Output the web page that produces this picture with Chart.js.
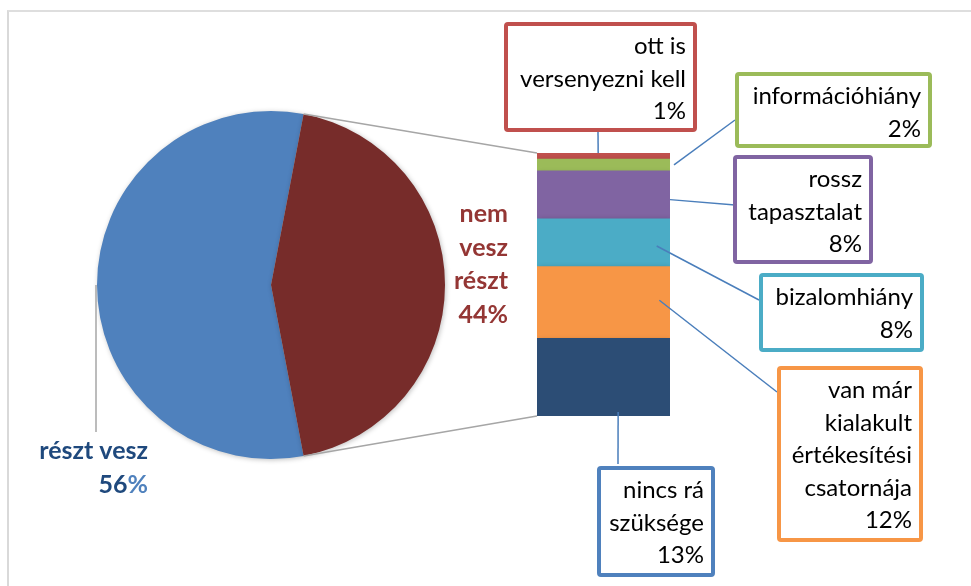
<!DOCTYPE html>
<html>
<head>
<meta charset="utf-8">
<script src="https://cdn.jsdelivr.net/npm/chart.js@4.4.0/dist/chart.umd.min.js"></script>
<style>
  body { margin: 0; background: #fff; }
  #wrap { position: relative; width: 971px; height: 586px; overflow: hidden; }
  #frame { position: absolute; left: 7px; top: 10px; right: -10px; bottom: -10px;
           border-left: 2px solid #d9d9d9; border-top: 2px solid #dedede; }
  canvas { position: absolute; left: 0; top: 0; }
</style>
</head>
<body>
<div id="wrap">
  <div id="frame"></div>
  <canvas id="pieCanvas" width="971" height="586"></canvas>
  <canvas id="barCanvas" width="971" height="586"></canvas>
</div>
<script>
// adatok
const pieLabels = ['részt vesz', 'nem vesz részt'];
const pieValues = [56, 44];
const pieColors = ['#4f81bd', '#772c2a'];

// a "nem vesz részt" felbontása, alulról felfelé
const reasonLabels = ['nincs rá szüksége', 'van már kialakult értékesítési csatornája', 'bizalomhiány',
                      'rossz tapasztalat', 'információhiány', 'ott is versenyezni kell'];
const reasonValues = [13, 12, 8, 8, 2, 1];
const reasonColors = ['#2c4d75', '#f79646', '#4bacc6', '#8064a2', '#9bbb59', '#c0504d'];
const boxBorders = ['#4f81bd', '#f79646', '#4bacc6', '#8064a2', '#9bbb59', '#c0504d'];

const FONT = 'Lato, "Noto Sans", sans-serif';

// címke dobozok helye (külső keret), sortörés szavanként, vezetővonal kezdete a sávon belül (arány) és vége
const boxes = [
  { x: 597, y: 466, w: 118, h: 111, words: [2, 1], from: [0.61, 0.95], to: [618, 464] },
  { x: 777, y: 366, w: 146, h: 176, words: [2, 1, 1, 1], from: [0.92, 0.47], to: [777, 392] },
  { x: 759, y: 273, w: 165, h: 79, words: [1], from: [0.9, 0.57], to: [759, 300] },
  { x: 733, y: 155, w: 140, h: 109, words: [1, 1], from: [1.0, 0.6], to: [735, 205] },
  { x: 735, y: 72, w: 197, h: 76, words: [1], from: [1.03, 0.5], to: [735, 120] },
  { x: 504, y: 22, w: 193, h: 110, words: [2, 2], from: [0.46, 0.0], to: [598, 132] }
];

function splitLines(label, counts) {
  const words = label.split(' ');
  const out = [];
  let i = 0;
  counts.forEach(n => { out.push(words.slice(i, i + n).join(' ')); i += n; });
  if (i < words.length) out.push(words.slice(i).join(' '));
  return out;
}

// pite címkék
const pieLabelPlugin = {
  id: 'pieLabels',
  beforeDatasetsDraw(chart) {
    chart.ctx.save();
    chart.ctx.shadowColor = 'rgba(0,0,0,0.25)';
    chart.ctx.shadowBlur = 5;
    chart.ctx.shadowOffsetX = 1;
    chart.ctx.shadowOffsetY = 1;
  },
  afterDatasetsDraw(chart) {
    chart.ctx.restore();
  },
  afterDraw(chart) {
    const ctx = chart.ctx;
    const arc = chart.getDatasetMeta(0).data[0];
    ctx.save();
    // részt vesz vezetővonal
    ctx.strokeStyle = '#a6a6a6';
    ctx.lineWidth = 1.5;
    ctx.beginPath();
    ctx.moveTo(arc.x - arc.outerRadius - 1, arc.y);
    ctx.lineTo(arc.x - arc.outerRadius - 1, arc.y + 147);
    ctx.stroke();

    ctx.font = 'bold 25px ' + FONT;
    ctx.textAlign = 'right';
    ctx.textBaseline = 'alphabetic';
    const rx = 148;
    ctx.fillStyle = '#1f497d';
    ctx.fillText(pieLabels[0], rx, 459);
    const pct = '%';
    const pw = ctx.measureText(pct).width;
    ctx.fillStyle = '#4f81bd';
    ctx.fillText(pct, rx, 493);
    ctx.fillStyle = '#1f497d';
    ctx.fillText(String(pieValues[0]), rx - pw, 493);

    // nem vesz részt
    ctx.fillStyle = '#943634';
    const lines = pieLabels[1].split(' ').concat([pieValues[1] + '%']);
    lines.forEach((t, i) => ctx.fillText(t, 508, 222 + i * 33.7));
    ctx.restore();
  }
};

const pieChart = new Chart(document.getElementById('pieCanvas'), {
  type: 'pie',
  data: {
    labels: pieLabels,
    datasets: [{ data: pieValues, backgroundColor: pieColors, borderWidth: 0 }]
  },
  options: {
    responsive: false,
    animation: false,
    devicePixelRatio: 1,
    rotation: 169.2,
    layout: { padding: { left: 97, right: 526, top: 111, bottom: 127 } },
    plugins: { legend: { display: false }, tooltip: { enabled: false } }
  },
  plugins: [pieLabelPlugin]
});

// sáv: összekötők, dobozok
const calloutPlugin = {
  id: 'callouts',
  beforeDatasetsDraw(chart) {
    chart.ctx.save();
    chart.ctx.shadowColor = 'rgba(0,0,0,0.2)';
    chart.ctx.shadowBlur = 5;
    chart.ctx.shadowOffsetX = 1;
    chart.ctx.shadowOffsetY = 1;
  },
  afterDatasetsDraw(chart) {
    chart.ctx.restore();
  },
  afterDraw(chart) {
    const ctx = chart.ctx;
    const slice = pieChart.getDatasetMeta(0).data[1];
    const bottomBar = chart.getDatasetMeta(0).data[0];
    const topBar = chart.getDatasetMeta(reasonValues.length - 1).data[0];
    const left = bottomBar.x - bottomBar.width / 2;

    ctx.save();
    // pite -> sáv
    ctx.strokeStyle = '#a6a6a6';
    ctx.lineWidth = 1.5;
    const p1 = [slice.x + slice.outerRadius * Math.cos(slice.startAngle), slice.y + slice.outerRadius * Math.sin(slice.startAngle)];
    const p2 = [slice.x + slice.outerRadius * Math.cos(slice.endAngle), slice.y + slice.outerRadius * Math.sin(slice.endAngle)];
    ctx.beginPath();
    ctx.moveTo(p1[0], p1[1]);
    ctx.lineTo(left, topBar.y);
    ctx.moveTo(p2[0], p2[1]);
    ctx.lineTo(left, bottomBar.base);
    ctx.stroke();

    boxes.forEach((b, i) => {
      const el = chart.getDatasetMeta(i).data[0];
      const ex = el.x - el.width / 2 + el.width * b.from[0];
      const ey = el.y + (el.base - el.y) * b.from[1];
      ctx.strokeStyle = '#4a7ebb';
      ctx.lineWidth = 1.5;
      ctx.beginPath();
      ctx.moveTo(ex, ey);
      ctx.lineTo(b.to[0], b.to[1]);
      ctx.stroke();

      ctx.fillStyle = '#fff';
      ctx.fillRect(b.x + 2, b.y + 2, b.w - 4, b.h - 4);
      ctx.strokeStyle = boxBorders[i];
      ctx.lineWidth = 4;
      ctx.beginPath();
      ctx.roundRect(b.x + 2, b.y + 2, b.w - 4, b.h - 4, 2);
      ctx.stroke();

      const lines = splitLines(reasonLabels[i], b.words).concat([reasonValues[i] + '%']);
      ctx.fillStyle = '#000';
      ctx.font = '24px ' + FONT;
      ctx.textAlign = 'right';
      ctx.textBaseline = 'alphabetic';
      lines.forEach((t, k) => ctx.fillText(t, b.x + b.w - 11, b.y + 32 + k * 32.5));
    });
    ctx.restore();
  }
};

new Chart(document.getElementById('barCanvas'), {
  type: 'bar',
  data: {
    labels: [''],
    datasets: reasonLabels.map((l, i) => ({
      label: l,
      data: [reasonValues[i]],
      backgroundColor: reasonColors[i],
      borderWidth: 0,
      categoryPercentage: 1,
      barPercentage: 1
    }))
  },
  options: {
    responsive: false,
    animation: false,
    devicePixelRatio: 1,
    layout: { padding: { left: 537, right: 301, top: 153, bottom: 170 } },
    scales: {
      x: { stacked: true, display: false },
      y: { stacked: true, display: false, min: 0, max: pieValues[1] }
    },
    plugins: { legend: { display: false }, tooltip: { enabled: false } }
  },
  plugins: [calloutPlugin]
});
</script>
</body>
</html>
